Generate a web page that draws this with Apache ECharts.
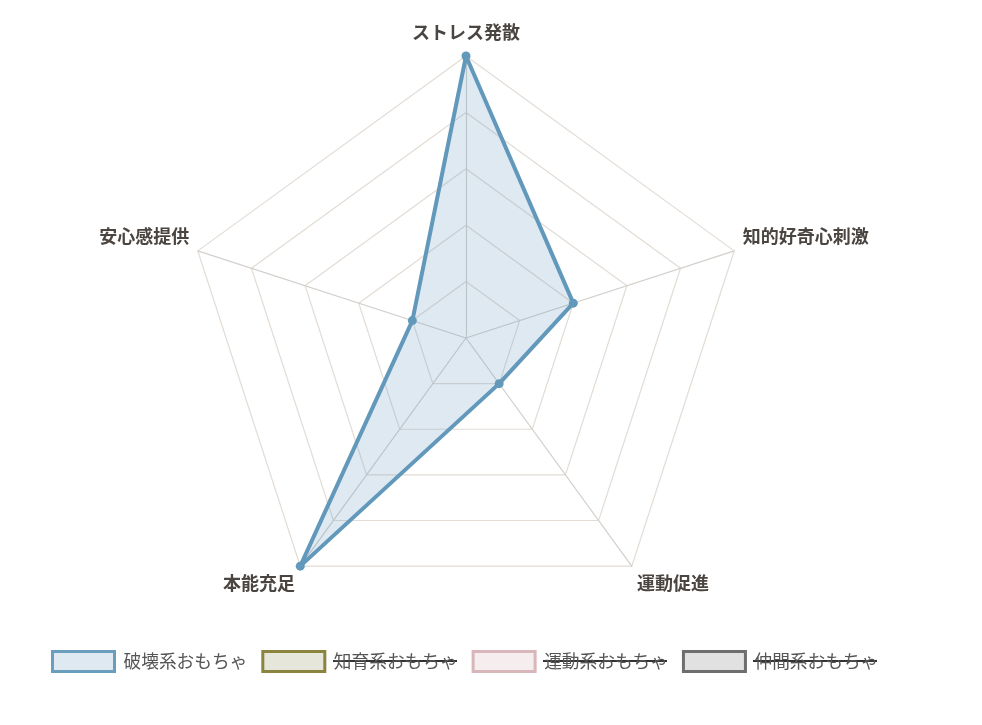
<!DOCTYPE html>
<html>
<head>
<meta charset="utf-8">
<script src="https://cdn.jsdelivr.net/npm/echarts@6/dist/echarts.min.js"></script>
<style>
html,body{margin:0;padding:0;background:#fff;}
#chart{width:982px;height:725px;}
</style>
</head>
<body>
<div id="chart"></div>
<script>
// Indicators in counter-clockwise order starting at top
const indicatorNames = ['ストレス発散', '安心感提供', '本能充足', '運動促進', '知的好奇心刺激'];
const indicatorMax = 10;
const seriesNames = ['破壊系おもちゃ', '知育系おもちゃ', '運動系おもちゃ', '仲間系おもちゃ'];
const destructiveValues = [10, 2, 10, 2, 4];
const hiddenSeries = ['知育系おもちゃ', '運動系おもちゃ', '仲間系おもちゃ'];

const legendStyles = [
  { fill: '#dfe9f2', border: '#6a9ebf' },
  { fill: '#e6e6da', border: '#8a843f' },
  { fill: '#f6eeee', border: '#d9b6ba' },
  { fill: '#e1e1e1', border: '#6e6e6e' }
];

const FONT = '"Noto Sans CJK JP", "Noto Sans", sans-serif';
const nameBase = { color: '#4a4540', fontWeight: 'bold', fontSize: 18, fontFamily: FONT };
const labelKind = ['top', 'side', 'bottom', 'bottom', 'side'];

const chart = echarts.init(document.getElementById('chart'));

const series = [{
  type: 'radar',
  name: seriesNames[0],
  symbol: 'circle',
  symbolSize: 9,
  itemStyle: { color: '#6299ba' },
  lineStyle: { color: '#6299ba', width: 4 },
  areaStyle: { color: 'rgba(100,150,192,0.21)', opacity: 1 },
  data: [{ value: destructiveValues, name: seriesNames[0] }]
}];
hiddenSeries.forEach(n => series.push({ type: 'radar', name: n, data: [] }));

chart.setOption({
  backgroundColor: '#fff',
  animation: false,
  radar: {
    center: [466, 338],
    radius: 282,
    splitNumber: 5,
    indicator: indicatorNames.map(n => ({ name: n, max: indicatorMax, min: 0 })),
    shape: 'polygon',
    nameGap: 9,
    axisName: Object.assign({}, nameBase, {
      formatter: function (name) {
        const k = labelKind[indicatorNames.indexOf(name)];
        return '{' + k + '|' + name + '}';
      },
      rich: {
        top: Object.assign({}, nameBase, { padding: [0, 0, 6, 0] }),
        side: Object.assign({}, nameBase, { padding: [0, 0, 24, 0] }),
        bottom: Object.assign({}, nameBase, { padding: [20, 0, 0, 0] })
      }
    }),
    splitLine: { lineStyle: { color: '#e3dcd5', width: 1.2 } },
    splitArea: { show: false },
    axisLine: { lineStyle: { color: '#d3d0cc', width: 1.2 } },
    axisTick: { show: false },
    axisLabel: { show: false }
  },
  legend: {
    left: 51,
    top: 650,
    padding: 0,
    itemWidth: 62,
    itemHeight: 20,
    itemGap: 14,
    icon: 'rect',
    selectedMode: false,
    textStyle: { color: '#555', fontSize: 17.7, fontFamily: FONT, padding: [0, 0, 0, 4] },
    data: seriesNames.map((n, i) => ({
      name: n,
      icon: 'rect',
      itemStyle: { color: legendStyles[i].fill, borderColor: legendStyles[i].border, borderWidth: 3 }
    }))
  },
  graphic: [
    { type: 'line', shape: { x1: 333, y1: 661, x2: 457, y2: 661 }, style: { stroke: '#333', lineWidth: 2 } },
    { type: 'line', shape: { x1: 543, y1: 661, x2: 667, y2: 661 }, style: { stroke: '#333', lineWidth: 2 } },
    { type: 'line', shape: { x1: 753, y1: 661, x2: 877, y2: 661 }, style: { stroke: '#333', lineWidth: 2 } }
  ],
  series: series
});
</script>
</body>
</html>
